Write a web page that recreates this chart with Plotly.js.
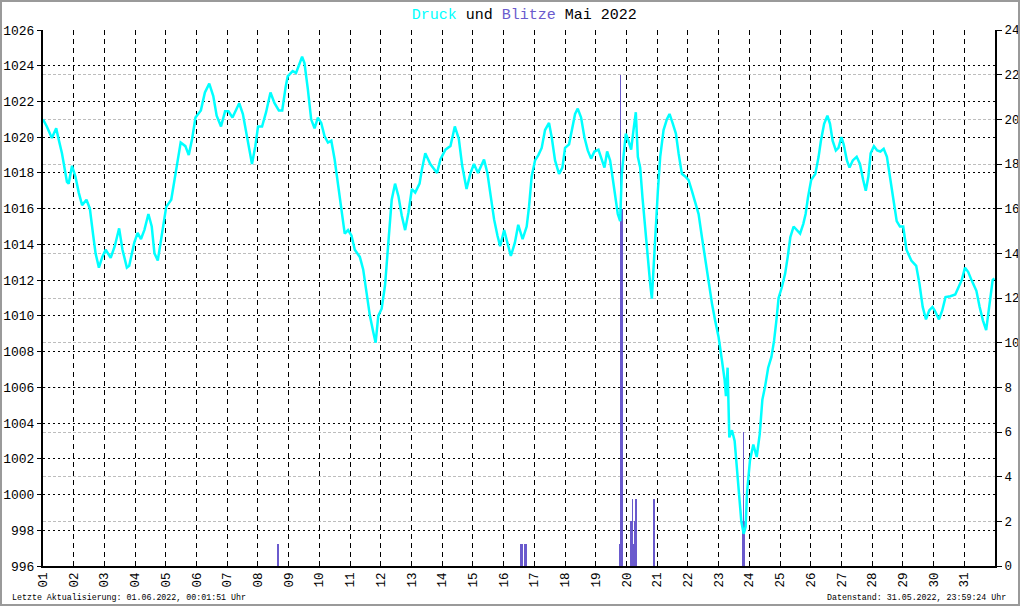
<!DOCTYPE html>
<html>
<head>
<meta charset="utf-8">
<script src="https://cdn.plot.ly/plotly-3.0.1.min.js"></script>
<style>
  html, body { margin:0; padding:0; background:#fff; }
  #wrap { position:relative; width:1020px; height:606px; }
  #chart { width:1020px; height:606px; }
  #frame { position:absolute; left:0; top:0; width:1020px; height:606px; box-sizing:border-box; border:2px solid #9a9a9a; pointer-events:none; }
</style>
</head>
<body>
<div id="wrap"><div id="chart"></div><div id="frame"></div></div>
<script>
// ---- Data: air pressure (hPa), time in fractional day of May 2022 ----
const pressureDay = [
  1.0,1.036,1.124,1.288,1.43,1.507,1.617,1.78,1.836,1.945,2.055,2.164,2.274,2.416,2.526,2.635,2.712,2.821,2.931,3.04,
  3.205,3.336,3.479,3.588,3.731,3.807,3.972,4.081,4.19,4.3,4.432,4.541,4.629,4.738,4.87,5.012,5.176,5.286,5.483,5.636,
  5.746,5.855,5.965,6.14,6.272,6.414,6.545,6.655,6.797,6.929,7.038,7.17,7.257,7.389,7.509,7.608,7.717,7.805,7.914,8.002,
  8.133,8.264,8.407,8.539,8.68,8.79,8.9,8.967,9.131,9.24,9.437,9.514,9.623,9.732,9.842,9.951,10.06,10.169,10.279,10.388,
  10.497,10.607,10.716,10.825,10.934,11.044,11.153,11.317,11.426,11.536,11.645,11.754,11.831,11.918,12.027,12.137,12.246,12.355,12.464,12.574,
  12.683,12.792,12.902,13.011,13.12,13.262,13.339,13.448,13.612,13.831,13.94,14.104,14.268,14.41,14.541,14.65,14.792,14.923,15.033,15.164,
  15.361,15.47,15.579,15.689,15.798,15.885,16.016,16.126,16.235,16.366,16.475,16.617,16.75,16.826,16.913,17.022,17.13,17.239,17.348,17.478,
  17.565,17.674,17.804,17.913,18.0,18.13,18.217,18.326,18.413,18.522,18.63,18.739,18.848,18.957,19.087,19.196,19.283,19.37,19.467,19.543,
  19.63,19.717,19.793,19.848,19.902,19.978,20.065,20.152,20.228,20.304,20.37,20.446,20.522,20.609,20.696,20.772,20.826,20.88,20.957,21.022,
  21.098,21.207,21.315,21.402,21.5,21.609,21.696,21.804,21.913,22.022,22.13,22.239,22.348,22.457,22.565,22.674,22.783,22.891,23.0,23.109,
  23.196,23.239,23.293,23.348,23.435,23.522,23.598,23.674,23.739,23.815,23.88,23.925,24.02,24.13,24.24,24.34,24.424,24.508,24.614,24.72,
  24.805,24.879,24.953,25.059,25.165,25.25,25.335,25.441,25.547,25.653,25.758,25.833,25.907,26.013,26.15,26.256,26.331,26.436,26.542,26.627,
  26.712,26.818,26.903,26.998,27.072,27.178,27.263,27.369,27.496,27.602,27.708,27.792,27.877,27.951,28.057,28.163,28.269,28.375,28.481,28.587,
  28.693,28.799,28.905,29.011,29.117,29.275,29.434,29.54,29.646,29.752,29.858,29.964,30.038,30.176,30.282,30.388,30.547,30.706,30.811,30.917,
  31.023,31.129,31.235,31.394,31.5,31.606,31.712,31.797,31.924,31.98
];
const pressureHpa = [
  1021.0,1020.9,1020.6,1019.96,1020.5,1019.9,1019.1,1017.5,1017.4,1018.4,1017.8,1016.9,1016.2,1016.5,1016.0,1014.5,1013.5,1012.7,1013.3,1013.7,
  1013.25,1013.9,1014.9,1013.7,1012.7,1012.8,1014.1,1014.65,1014.3,1014.8,1015.7,1015.0,1013.5,1013.1,1014.65,1016.1,1016.5,1017.6,1019.7,1019.5,
  1019.0,1019.9,1021.1,1021.5,1022.5,1023.0,1022.3,1021.2,1020.6,1021.45,1021.45,1021.1,1021.45,1021.9,1021.3,1020.4,1019.3,1018.5,1019.5,1020.6,
  1020.6,1021.4,1022.5,1021.9,1021.5,1021.5,1022.8,1023.4,1023.7,1023.6,1024.5,1024.15,1022.7,1021.0,1020.5,1021.1,1020.8,1020.05,1019.7,1019.8,
  1018.75,1017.3,1015.8,1014.6,1014.8,1014.5,1013.7,1013.3,1012.6,1011.3,1010.0,1009.1,1008.5,1010.0,1010.4,1011.7,1013.9,1016.5,1017.4,1016.7,
  1015.6,1014.8,1015.8,1017.1,1016.9,1017.4,1018.2,1019.1,1018.5,1018.0,1018.75,1019.3,1019.5,1020.6,1019.9,1018.4,1017.1,1018.0,1018.5,1018.0,
  1018.75,1018.0,1016.7,1015.4,1014.5,1013.9,1014.8,1014.1,1013.35,1014.1,1015.1,1014.3,1015.0,1016.1,1017.8,1018.7,1019.0,1019.4,1020.4,1020.8,
  1020.0,1018.7,1017.95,1018.3,1019.4,1019.6,1020.4,1021.3,1021.6,1021.1,1020.0,1019.26,1018.8,1019.2,1019.3,1018.7,1018.3,1019.2,1018.7,1017.8,
  1016.8,1015.7,1015.3,1017.95,1018.9,1020.2,1019.8,1019.3,1020.4,1021.4,1018.9,1018.3,1016.6,1014.8,1013.3,1011.8,1010.96,1012.7,1015.3,1017.0,
  1018.9,1020.4,1021.0,1021.3,1020.8,1020.2,1019.1,1017.95,1017.8,1017.6,1017.0,1016.4,1015.7,1014.4,1013.1,1011.8,1010.7,1009.7,1008.8,1007.5,
  1006.4,1005.5,1007.1,1003.2,1003.6,1003.0,1001.5,999.85,998.5,997.8,998.2,1000.1,1001.9,1002.8,1002.1,1003.4,1005.3,1006.0,1007.1,1007.7,
  1008.6,1009.7,1011.0,1011.6,1012.35,1013.3,1014.4,1015.0,1014.8,1014.6,1015.15,1015.7,1016.6,1017.6,1017.95,1018.9,1019.8,1020.75,1021.2,1020.75,
  1019.8,1019.26,1019.4,1020.0,1019.6,1018.7,1018.3,1018.7,1018.9,1018.5,1017.6,1017.0,1017.8,1019.1,1019.5,1019.26,1019.2,1019.35,1018.9,1017.8,
  1016.5,1015.3,1015.0,1015.0,1013.7,1013.1,1012.8,1011.8,1010.5,1009.8,1010.3,1010.5,1010.3,1009.8,1010.3,1011.05,1011.1,1011.2,1011.6,1012.0,
  1012.7,1012.45,1012.0,1011.4,1010.5,1009.75,1009.2,1010.3,1012.0,1012.1
];

// ---- Data: lightning counts per hour (hour centre, fractional day) ----
const lightningDay = [
  8.65,
  16.5625,16.6042,16.6875,16.7292,
  19.7708,19.8125,19.8542,
  20.1458,20.1875,20.2292,20.2708,20.3125,20.8958,
  23.7708,23.8125,23.8542
];
const lightningCount = [
  1,
  1,1,1,1,
  1,22,16,
  2,3,1,2,3,3,
  2,6,2
];

// ---- Tick labels ----
const dayTickVals = Array.from({length:31}, (_, i) => i + 1);
const dayTickText = dayTickVals.map(d => String(d).padStart(2, '0'));

const MONO = 'Liberation Mono, DejaVu Sans Mono, monospace';

const traces = [
  {
    type:'bar', x: lightningDay, y: lightningCount, yaxis:'y', xaxis:'x',
    width: 1/24, marker:{color:'#6a5acd', line:{width:0}}, hoverinfo:'x+y'
  },
  {
    type:'scatter', mode:'lines', x: pressureDay, y: pressureHpa, yaxis:'y2', xaxis:'x',
    line:{color:'#00ffff', width:2.5}, hoverinfo:'x+y'
  }
];

const layout = {
  width:1020, height:606,
  margin:{l:43, r:25, t:30, b:40, pad:0},
  paper_bgcolor:'#ffffff', plot_bgcolor:'#ffffff',
  showlegend:false,
  bargap:0,
  title:{
    text:'<span style="color:#00ffff">Druck</span> und <span style="color:#6a5acd">Blitze</span> Mai 2022',
    font:{family:MONO, size:15, color:'#000'},
    xref:'container', x:0.514, xanchor:'center',
    yref:'container', y:0.978, yanchor:'middle'
  },
  xaxis:{
    range:[1, 32], tickmode:'array', tickvals: dayTickVals, ticktext: dayTickText,
    tickangle:-90, tickfont:{family:MONO, size:12.5, color:'#000'},
    showgrid:true, gridcolor:'#000', gridwidth:1, griddash:'5px,4px',
    showline:true, linecolor:'#000', linewidth:1.5,
    ticks:'', zeroline:false, fixedrange:true
  },
  yaxis:{
    range:[0, 24], side:'right', tickmode:'linear', tick0:0, dtick:2,
    tickfont:{family:MONO, size:12.5, color:'#000'},
    showgrid:true, gridcolor:'#bdbdbd', gridwidth:1, griddash:'3px,2px',
    showline:true, linecolor:'#000', linewidth:2,
    ticks:'outside', ticklen:5, tickcolor:'#000', tickwidth:1,
    zeroline:false, fixedrange:true
  },
  yaxis2:{
    range:[996, 1026], overlaying:'y', side:'left', tickmode:'linear', tick0:996, dtick:2,
    tickfont:{family:MONO, size:13, color:'#000'},
    showgrid:true, gridcolor:'#000', gridwidth:1, griddash:'2px,3px',
    showline:true, linecolor:'#000', linewidth:2,
    ticks:'outside', ticklen:4, tickcolor:'#000', tickwidth:1,
    zeroline:false, fixedrange:true
  },
  annotations:[
    {
      text:'Letzte Aktualisierung: 01.06.2022, 00:01:51 Uhr',
      xref:'paper', yref:'paper', x:-0.0347, y:-0.0597, xanchor:'left', yanchor:'middle',
      showarrow:false, font:{family:MONO, size:8.3, color:'#000'}
    },
    {
      text:'Datenstand: 31.05.2022, 23:59:24 Uhr',
      xref:'paper', yref:'paper', x:1.0137, y:-0.0597, xanchor:'right', yanchor:'middle',
      showarrow:false, font:{family:MONO, size:8.3, color:'#000'}
    }
  ]
};

Plotly.newPlot('chart', traces, layout, {displayModeBar:false, staticPlot:true});
</script>
</body>
</html>
